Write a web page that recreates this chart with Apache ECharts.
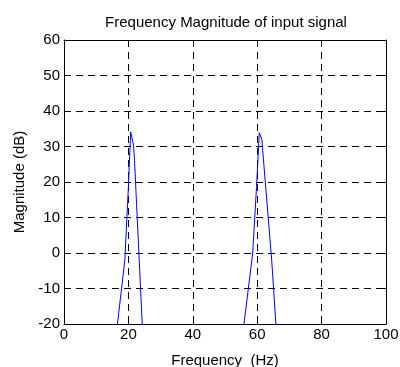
<!DOCTYPE html>
<html>
<head>
<meta charset="utf-8">
<script src="https://cdn.jsdelivr.net/npm/echarts@6/dist/echarts.min.js"></script>
<style>
  html, body {margin: 0; padding: 0; background: #fff;}
  #chart {width: 400px; height: 367px;}
</style>
</head>
<body>
<div id="chart"></div>
<script>
// spectrum samples (Hz, dB)
const freqHz = [14.8, 16.6, 18.9, 20.0, 20.7, 21.6, 21.9, 24.3, 25.2,
                null,
                54.5, 55.9, 58.6, 59.8, 60.65, 61.5, 61.7, 64.5, 65.8, 66.6];
const magDb = [-40, -20, -2, 18.7, 34.1, 30.4, 26, -20, -35,
               null,
               -40, -20, 0, 18.7, 33.9, 31.8, 29, -2, -20, -32];
const xTicks = [0, 20, 40, 60, 80, 100];
const yTicks = [-20, -10, 0, 10, 20, 30, 40, 50, 60];

const pts = freqHz.map((f, i) => f === null ? ['-', '-'] : [f, magDb[i]]);

const font = 'Liberation Sans, Arial, sans-serif';
const fs = 15;
const dash = {color: '#000', width: 1, type: [7, 5]};

const chart = echarts.init(document.getElementById('chart'));
chart.setOption({
  animation: false,
  title: {
    text: 'Frequency Magnitude of input signal',
    left: 221,
    top: 10,
    textAlign: 'center',
    textStyle: {fontFamily: font, fontSize: fs, fontWeight: 'normal', color: '#000'}
  },
  grid: {left: 64, right: 14, top: 40, bottom: 43, outerBoundsMode: 'none', containLabel: false},
  xAxis: [{
    type: 'value',
    min: xTicks[0],
    max: xTicks[xTicks.length - 1],
    interval: 20,
    name: 'Frequency  (Hz)',
    nameLocation: 'middle',
    nameGap: 29,
    nameTextStyle: {fontFamily: font, fontSize: fs, color: '#000'},
    axisLine: {onZero: false, lineStyle: {color: '#000'}},
    axisTick: {inside: true, length: 4, lineStyle: {color: '#000'}},
    axisLabel: {fontFamily: font, fontSize: fs, color: '#000', margin: 3},
    splitLine: {show: true, lineStyle: dash}
  }, {
    type: 'value',
    position: 'top',
    min: xTicks[0],
    max: xTicks[xTicks.length - 1],
    interval: 20,
    axisLine: {show: true, onZero: false, lineStyle: {color: '#000'}},
    axisTick: {show: true, inside: true, length: 4, lineStyle: {color: '#000'}},
    axisLabel: {show: false},
    splitLine: {show: false}
  }],
  yAxis: [{
    type: 'value',
    min: yTicks[0],
    max: yTicks[yTicks.length - 1],
    interval: 10,
    name: 'Magnitude (dB)',
    nameLocation: 'middle',
    nameGap: 35,
    nameTextStyle: {fontFamily: font, fontSize: fs, color: '#000'},
    axisLine: {show: true, onZero: false, lineStyle: {color: '#000'}},
    axisTick: {show: true, inside: true, length: 4, lineStyle: {color: '#000'}},
    axisLabel: {fontFamily: font, fontSize: fs, color: '#000', margin: 4},
    splitLine: {show: true, lineStyle: dash}
  }, {
    type: 'value',
    position: 'right',
    min: yTicks[0],
    max: yTicks[yTicks.length - 1],
    interval: 10,
    axisLine: {show: true, onZero: false, lineStyle: {color: '#000'}},
    axisTick: {show: true, inside: true, length: 4, lineStyle: {color: '#000'}},
    axisLabel: {show: false},
    splitLine: {show: false}
  }],
  series: [{
    type: 'line',
    data: pts,
    showSymbol: false,
    connectNulls: false,
    clip: true,
    lineStyle: {color: '#0000ff', width: 1},
    itemStyle: {color: '#0000ff'}
  }]
});
</script>
</body>
</html>
